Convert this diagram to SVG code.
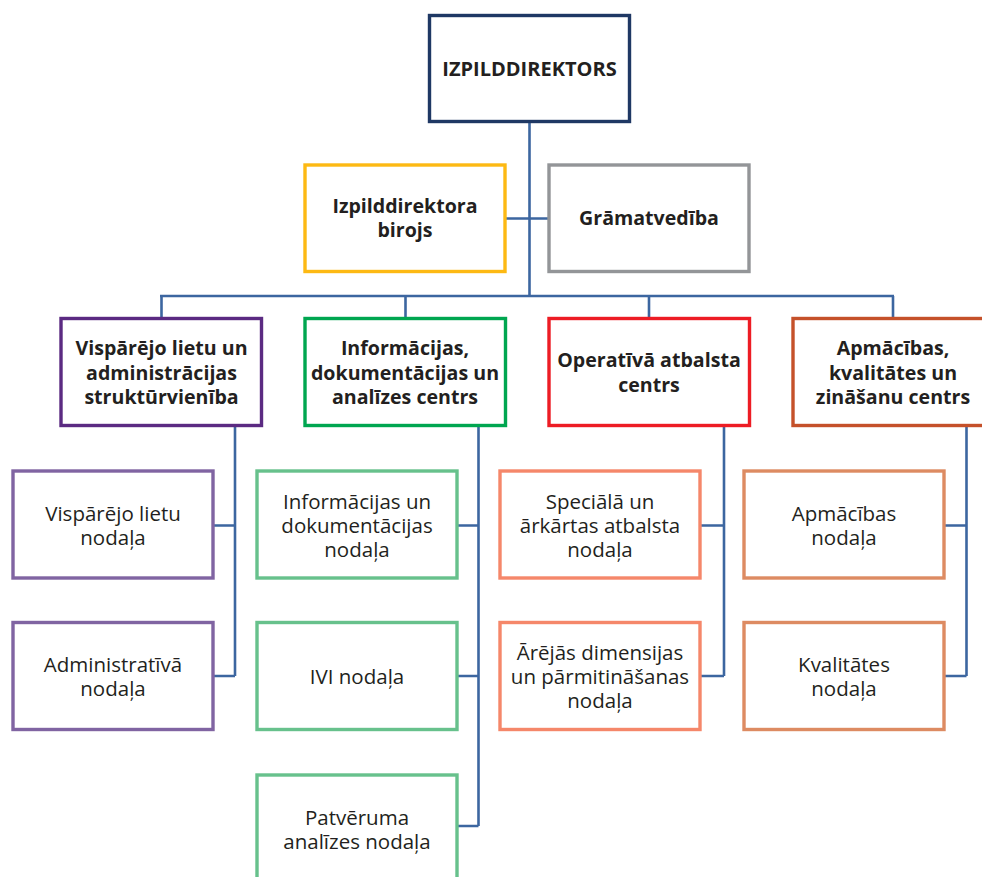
<svg xmlns="http://www.w3.org/2000/svg" width="982" height="877" viewBox="0 0 982 877">
<style>
rect.b{fill:#fff;stroke-width:3.4}
text{font-family:"Open Sans","Noto Sans","Liberation Sans",sans-serif;fill:#231f20;text-anchor:middle;dominant-baseline:central}
.h{font-weight:bold;font-size:19.6px}
.t{font-size:20px}
.r{font-size:20.5px}
#conn path{fill:none;stroke:#3c66a0;stroke-width:2.6}
</style>
<rect width="982" height="877" fill="#fff"/>
<g id="conn">
<path d="M529.5 122V296M505 218.5H549M160 296H894M161.5 296V318M405.5 296V318M649 296V318M893 296V318"/>
<path d="M235 426V676M213 525.5H235M213 676H235"/>
<path d="M478.5 426V826M457 525.5H478.5M457 676H478.5M457 826H478.5"/>
<path d="M724 426V676M700 525.5H724M700 676H724"/>
<path d="M966.5 426V676M944 525.5H966.5M944 676H966.5"/>
</g>
<g id="n_director"><rect class="b" x="429.5" y="15.5" width="200" height="106" stroke="#1f3864"/><text class="h t" x="529.5" y="68.5">IZPILDDIREKTORS</text></g>
<g id="n_birojs"><rect class="b" x="305" y="165" width="200" height="106.5" stroke="#fdb913"/><text class="h" x="405" y="205">Izpilddirektora<tspan x="405" dy="24">birojs</tspan></text></g>
<g id="n_gramatvediba"><rect class="b" x="549" y="165" width="200" height="106.5" stroke="#939598"/><text class="h" x="649" y="217">Grāmatvedība</text></g>
<g id="n_visparejo"><rect class="b" x="61" y="318.5" width="200.5" height="107" stroke="#5b2a82"/><text class="h" x="161.5" y="347.5">Vispārējo lietu un<tspan x="161.5" dy="24">administrācijas</tspan><tspan x="161.5" dy="24">struktūrvienība</tspan></text></g>
<g id="n_informacijas"><rect class="b" x="305" y="318.5" width="200.5" height="107" stroke="#00a650"/><text class="h" x="405" y="347.5">Informācijas,<tspan x="405" dy="24">dokumentācijas un</tspan><tspan x="405" dy="24">analīzes centrs</tspan></text></g>
<g id="n_operativa"><rect class="b" x="549" y="318.5" width="200.5" height="107" stroke="#ed1c24"/><text class="h" x="649" y="359.5">Operatīvā atbalsta<tspan x="649" dy="24">centrs</tspan></text></g>
<g id="n_apmacibas_c"><rect class="b" x="793" y="318.5" width="200.5" height="107" stroke="#c5512a"/><text class="h" x="893" y="347.5">Apmācības,<tspan x="893" dy="24">kvalitātes un</tspan><tspan x="893" dy="24">zināšanu centrs</tspan></text></g>
<g id="n_vl_nodala"><rect class="b" x="13" y="471" width="200" height="107" stroke="#8064a2"/><text class="r" x="113" y="512.5">Vispārējo lietu<tspan x="113" dy="24">nodaļa</tspan></text></g>
<g id="n_adm_nodala"><rect class="b" x="13" y="622.5" width="200" height="107" stroke="#8064a2"/><text class="r" x="113" y="663.5">Administratīvā<tspan x="113" dy="24">nodaļa</tspan></text></g>
<g id="n_id_nodala"><rect class="b" x="257" y="471" width="200" height="107" stroke="#67c18c"/><text class="r" x="357" y="500.5">Informācijas un<tspan x="357" dy="24">dokumentācijas</tspan><tspan x="357" dy="24">nodaļa</tspan></text></g>
<g id="n_ivi_nodala"><rect class="b" x="257" y="622.5" width="200" height="107" stroke="#67c18c"/><text class="r" x="357" y="676">IVI nodaļa</text></g>
<g id="n_patv_nodala"><rect class="b" x="257" y="775" width="200" height="107" stroke="#67c18c"/><text class="r" x="357" y="816.5">Patvēruma<tspan x="357" dy="24">analīzes nodaļa</tspan></text></g>
<g id="n_spec_nodala"><rect class="b" x="500" y="471" width="200" height="107" stroke="#f5876a"/><text class="r" x="600" y="500.5">Speciālā un<tspan x="600" dy="24">ārkārtas atbalsta</tspan><tspan x="600" dy="24">nodaļa</tspan></text></g>
<g id="n_ared_nodala"><rect class="b" x="500" y="622.5" width="200" height="107" stroke="#f5876a"/><text class="r" x="600" y="652">Ārējās dimensijas<tspan x="600" dy="24">un pārmitināšanas</tspan><tspan x="600" dy="24">nodaļa</tspan></text></g>
<g id="n_apm_nodala"><rect class="b" x="744" y="471" width="200" height="107" stroke="#dd8b62"/><text class="r" x="844" y="512.5">Apmācības<tspan x="844" dy="24">nodaļa</tspan></text></g>
<g id="n_kval_nodala"><rect class="b" x="744" y="622.5" width="200" height="107" stroke="#dd8b62"/><text class="r" x="844" y="663.5">Kvalitātes<tspan x="844" dy="24">nodaļa</tspan></text></g>
</svg>
